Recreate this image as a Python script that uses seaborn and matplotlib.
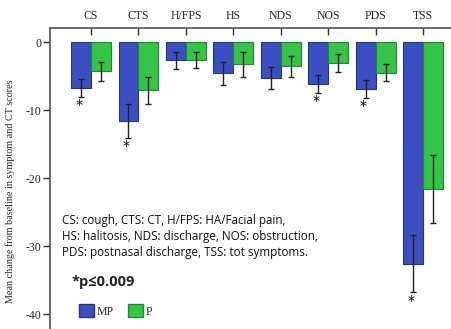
import matplotlib
matplotlib.use("Agg")
import matplotlib.pyplot as plt
import seaborn as sns
import pandas as pd
import numpy as np
from matplotlib.patches import Patch

categories = ["CS", "CTS", "H/FPS", "HS", "NDS", "NOS", "PDS", "TSS"]
mp_means = [-6.8, -11.6, -2.7, -4.6, -5.3, -6.2, -6.9, -32.6]
p_means = [-4.3, -7.1, -2.6, -3.3, -3.6, -3.1, -4.5, -21.6]
mp_err = [1.3, 2.5, 1.2, 1.7, 1.6, 1.3, 1.3, 4.2]
p_err = [1.4, 2.0, 1.2, 1.8, 1.5, 1.3, 1.3, 5.0]
significant = ["CS", "CTS", "NOS", "PDS", "TSS"]
groups = ["MP", "P"]
yticks = [0, -10, -20, -30, -40]

sns.set_style("white")
plt.rcParams["axes.unicode_minus"] = False
serif = ["Liberation Serif", "DejaVu Serif"]

df = pd.DataFrame({
    "cat": categories * 2,
    "grp": ["MP"] * len(categories) + ["P"] * len(categories),
    "val": mp_means + p_means,
})

fig = plt.figure(figsize=(4.51, 3.29), dpi=100)
ax = fig.add_axes([50 / 451, 0.0, 401 / 451, 1 - 28 / 329])

palette = {"MP": "#3c4fc2", "P": "#34c446"}
sns.barplot(data=df, x="cat", y="val", hue="grp", order=categories,
            hue_order=groups, palette=palette, width=0.84, errorbar=None,
            saturation=1, ax=ax, legend=False)

edgecols = {"MP": "#26357e", "P": "#1f8a2c"}
errs = {"MP": mp_err, "P": p_err}
means = {"MP": mp_means, "P": p_means}
for gi, g in enumerate(groups):
    cont = ax.containers[gi]
    for i, bar in enumerate(cont):
        bar.set_edgecolor(edgecols[g])
        bar.set_linewidth(0.8)
        xc = bar.get_x() + bar.get_width() / 2
        ax.errorbar(xc, means[g][i], yerr=errs[g][i], fmt="none",
                    ecolor="#222222", elinewidth=1.0, capsize=2, capthick=1.0)
        if g == "MP" and categories[i] in significant:
            ax.text(xc - 0.05, means[g][i] - errs[g][i] - 0.2, "*",
                    ha="center", va="top", fontsize=10, color="black")

ax.set_ylim(-42.2, 2.06)
ax.set_xlim(-0.865, 7.59)
ax.set_yticks(yticks)
ax.set_yticklabels([str(t) for t in yticks], family=serif, fontsize=8.5)
ax.xaxis.tick_top()
ax.set_xticks(range(len(categories)))
ax.set_xticklabels(categories, family=serif, fontsize=8.5)
ax.tick_params(axis="x", direction="in", length=5, width=1, pad=4, color="#333333")
ax.tick_params(axis="y", direction="out", length=5, width=1, pad=1, color="#333333", left=True)
ax.set_xlabel("")
ax.set_ylabel("Mean change from baseline in symptom and CT scores",
              family=serif, fontsize=7.3)
ax.yaxis.set_label_coords(-0.087, 0.458)
for s in ["right", "bottom"]:
    ax.spines[s].set_visible(False)
for s in ["top", "left"]:
    ax.spines[s].set_color("#555555")
    ax.spines[s].set_linewidth(1.2)

note = ("CS: cough, CTS: CT, H/FPS: HA/Facial pain,\n"
        "HS: halitosis, NDS: discharge, NOS: obstruction,\n"
        "PDS: postnasal discharge, TSS: tot symptoms.")
fig.text(62 / 451, 1 - 214 / 329, note, ha="left", va="top",
         fontsize=8.4, family=["Open Sans", "DejaVu Sans"], linespacing=1.3,
         color="#111111")
fig.text(72 / 451, 1 - 282 / 329, "*p\u22640.009", ha="left", va="center",
         fontsize=10.5, fontweight="bold", family=["Open Sans", "DejaVu Sans"])

handles = [Patch(facecolor=palette[g], edgecolor=edgecols[g], label=g) for g in groups]
fig.legend(handles=handles, loc="center left", bbox_to_anchor=(68 / 451, 1 - 311 / 329),
           ncol=2, frameon=False, prop={"family": serif, "size": 8.5},
           handlelength=1.3, handleheight=1.3, handletextpad=0.2, columnspacing=1.2)

fig.savefig("out.png", dpi=100)
